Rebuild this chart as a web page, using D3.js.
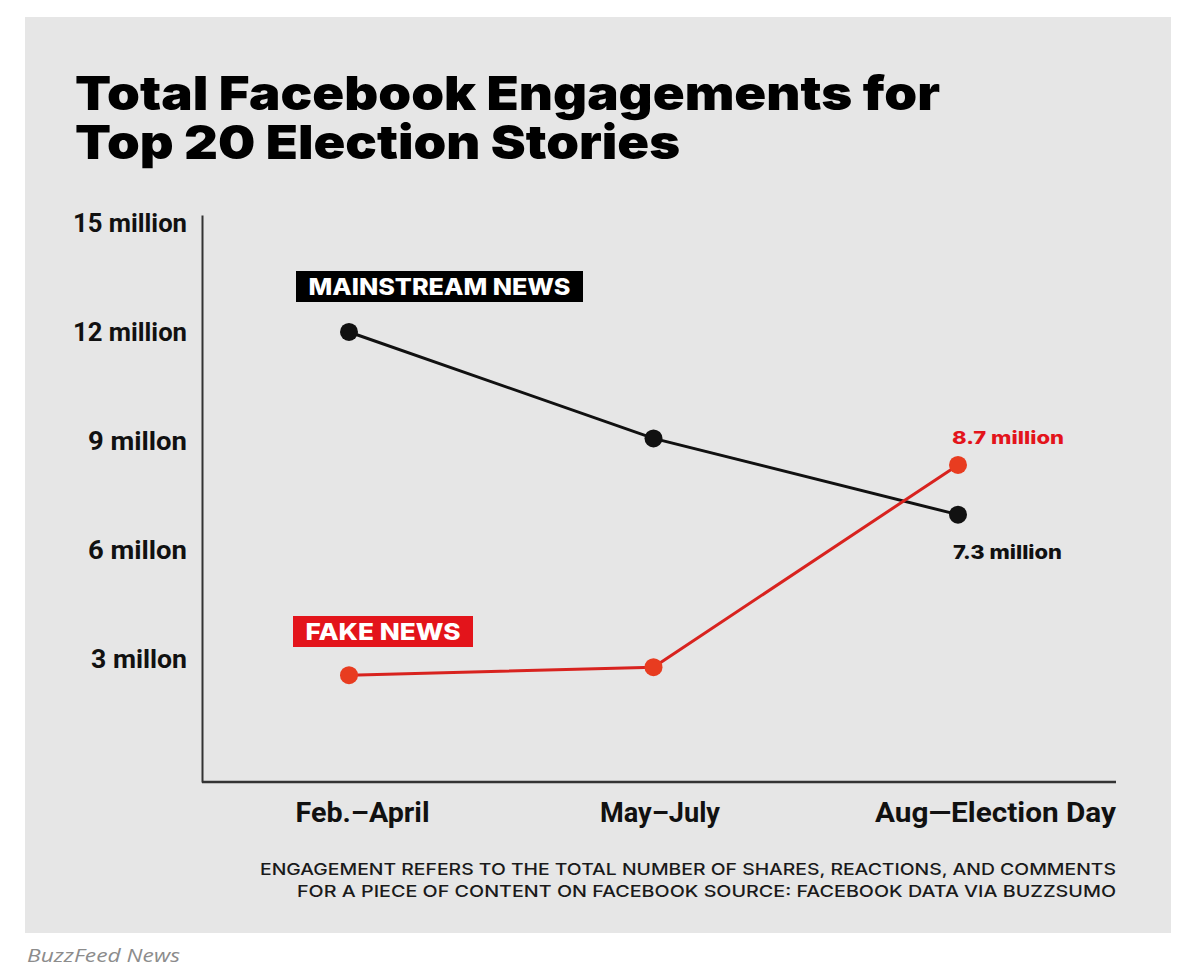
<!DOCTYPE html>
<html>
<head>
<meta charset="utf-8">
<script src="https://cdn.jsdelivr.net/npm/d3@7"></script>
<style>
  html, body { margin: 0; padding: 0; background: #ffffff; }
  svg { display: block; }
</style>
</head>
<body>
<svg id="chart" width="1200" height="970"></svg>
<script>
// ---------------- data ----------------
const categories = ["Feb.\u2013April", "May\u2013July", "Aug\u2014Election Day"];
const mainstreamValues = [12.03, 9.1, 7.0];
const fakeValues = [2.58, 2.8, 8.37];
const seriesNames = ["MAINSTREAM NEWS", "FAKE NEWS"];
const endLabels = ["7.3 million", "8.7 million"];
const yTickValues = [3, 6, 9, 12, 15];
const yTickLabels = ["3 millon", "6 millon", "9 millon", "12 million", "15 million"];
const titleLines = ["Total Facebook Engagements for", "Top 20 Election Stories"];
const noteLines = [
  "ENGAGEMENT REFERS TO THE TOTAL NUMBER OF SHARES, REACTIONS, AND COMMENTS",
  "FOR A PIECE OF CONTENT ON FACEBOOK SOURCE: FACEBOOK DATA VIA BUZZSUMO"
];
const creditText = "BuzzFeed News";

// ---------------- layout ----------------
const svg = d3.select("#chart");
const BLACK = "#111111";
const RED_LINE = "#d8231f";
const RED_DOT = "#e83c20";
const RED_BOX = "#e3141b";
const condensed = "'Liberation Sans Narrow', 'Roboto', 'Arial Narrow', sans-serif";
const heavy = "'Inter', 'Lato', 'Noto Sans', sans-serif";

// panel
svg.append("rect").attr("x", 25).attr("y", 17).attr("width", 1146).attr("height", 916)
  .attr("fill", "#e6e6e6");

// title
svg.selectAll("text.title").data(titleLines).join("text")
  .attr("class", "title")
  .attr("x", 75).attr("y", (d, i) => 110 + i * 49)
  .attr("font-family", heavy).attr("font-weight", 900).attr("font-size", 47)
  .attr("fill", "#000")
  .attr("textLength", (d, i) => [865, 605][i]).attr("lengthAdjust", "spacingAndGlyphs")
  .text(d => d);

// scales
const x = d3.scalePoint().domain(categories).range([349, 958]);
const y = d3.scaleLinear().domain([-0.36, 15.25]).range([782, 215]);

// y axis
const yAxis = svg.append("g").attr("transform", "translate(202,0)")
  .call(d3.axisLeft(y).tickValues(yTickValues)
    .tickFormat((d, i) => yTickLabels[i]).tickSize(0).tickSizeOuter(0).tickPadding(15));
yAxis.select(".domain").attr("stroke", "#333").attr("stroke-width", 2);
yAxis.selectAll(".tick text")
  .attr("font-family", condensed).attr("font-weight", 700).attr("font-size", 26)
  .attr("fill", "#111").attr("dy", "0.3em")
  .attr("textLength", (d, i) => [96, 99, 99, 114, 114][i]).attr("lengthAdjust", "spacingAndGlyphs");

// x axis
const xAxis = svg.append("g").attr("transform", "translate(0,782)")
  .call(d3.axisBottom(x).tickSize(0).tickPadding(21));
xAxis.select(".domain").remove();
svg.append("line").attr("x1", 202).attr("x2", 1116).attr("y1", y.range()[0]).attr("y2", y.range()[0])
  .attr("stroke", "#333").attr("stroke-width", 2.5);
xAxis.selectAll(".tick text")
  .attr("font-family", condensed).attr("font-weight", 700).attr("font-size", 27)
  .attr("fill", "#111").attr("dy", "0.71em")
  .attr("text-anchor", "middle")
  .attr("dx", (d, i) => [13, 6, 37][i])
  .attr("textLength", (d, i) => [134, 120, 241][i]).attr("lengthAdjust", "spacingAndGlyphs");

// lines
const line = d3.line().x((d, i) => x(categories[i])).y(d => y(d));
svg.append("path").datum(mainstreamValues).attr("d", line)
  .attr("fill", "none").attr("stroke", BLACK).attr("stroke-width", 3);
svg.append("path").datum(fakeValues).attr("d", line)
  .attr("fill", "none").attr("stroke", RED_LINE).attr("stroke-width", 3);

svg.append("g").selectAll("circle").data(mainstreamValues).join("circle")
  .attr("cx", (d, i) => x(categories[i])).attr("cy", d => y(d)).attr("r", 9)
  .attr("fill", BLACK);
svg.append("g").selectAll("circle").data(fakeValues).join("circle")
  .attr("cx", (d, i) => x(categories[i])).attr("cy", d => y(d)).attr("r", 9)
  .attr("fill", RED_DOT);

// series label boxes
function tagLabel(text, bx, by, bw, bh, fill, tw) {
  svg.append("rect").attr("x", bx).attr("y", by).attr("width", bw).attr("height", bh).attr("fill", fill);
  svg.append("text").attr("x", bx + bw / 2).attr("y", by + bh / 2 + 8)
    .attr("text-anchor", "middle")
    .attr("font-family", heavy).attr("font-weight", 800).attr("font-size", 23)
    .attr("fill", "#fff")
    .attr("textLength", tw).attr("lengthAdjust", "spacingAndGlyphs")
    .text(text);
}
tagLabel(seriesNames[0], 296, 271, 287, 31, "#000", 262);
tagLabel(seriesNames[1], 293, 616, 180, 31, RED_BOX, 155);

// end labels
svg.append("text").attr("x", 953).attr("y", y(mainstreamValues[2]) + 44)
  .attr("font-family", heavy).attr("font-weight", 800).attr("font-size", 19)
  .attr("fill", "#111").attr("textLength", 109).attr("lengthAdjust", "spacingAndGlyphs")
  .text(endLabels[0]);
svg.append("text").attr("x", 952).attr("y", y(fakeValues[2]) - 21)
  .attr("font-family", heavy).attr("font-weight", 800).attr("font-size", 18)
  .attr("fill", RED_BOX).attr("textLength", 112).attr("lengthAdjust", "spacingAndGlyphs")
  .text(endLabels[1]);

// footnote
svg.selectAll("text.note").data(noteLines).join("text")
  .attr("class", "note")
  .attr("x", 1116).attr("y", (d, i) => 875 + i * 22)
  .attr("text-anchor", "end")
  .attr("font-family", heavy).attr("font-weight", 500).attr("font-size", 16)
  .attr("fill", "#1a1a1a")
  .attr("textLength", (d, i) => [856, 819][i]).attr("lengthAdjust", "spacingAndGlyphs")
  .text(d => d);

// credit
svg.append("text").attr("x", 27).attr("y", 962)
  .attr("font-family", "'Open Sans', 'Lato', sans-serif").attr("font-style", "italic")
  .attr("font-size", 19).attr("fill", "#8c8c8c")
  .attr("textLength", 153).attr("lengthAdjust", "spacingAndGlyphs")
  .text(creditText);
</script>
</body>
</html>
